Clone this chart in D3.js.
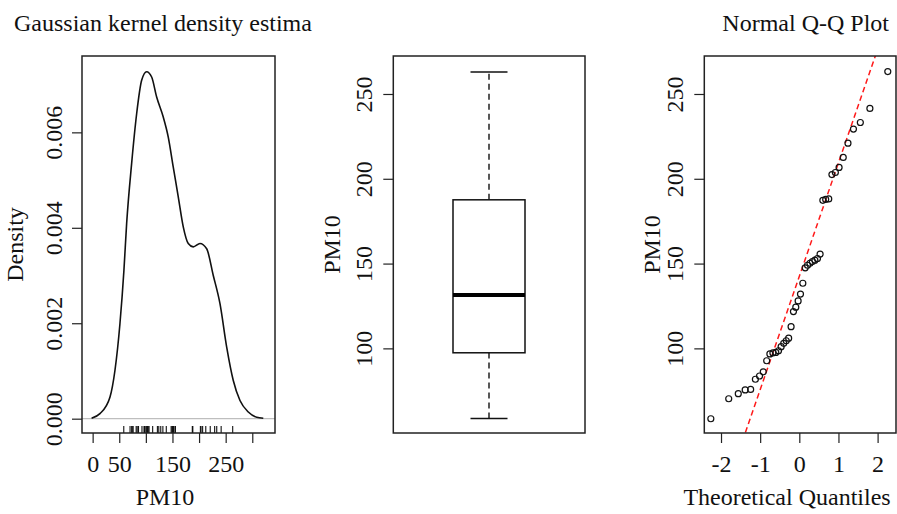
<!DOCTYPE html>
<html>
<head>
<meta charset="utf-8">
<script src="https://cdn.jsdelivr.net/npm/d3@7"></script>
<style>
  html, body { margin: 0; padding: 0; background: #fff; }
  svg { display: block; }
  text { font-family: "Liberation Serif", "DejaVu Serif", serif; fill: #111; }
</style>
</head>
<body>
<svg id="chart" width="897" height="514"></svg>
<script>
// ---------------- DATA ----------------
const pm10 = [58.5, 70.3, 73.3, 75.5, 75.8, 81.8, 83.7, 86.2, 92.7, 96.7,
              97.3, 97.6, 98.6, 101.0, 103.0, 104.5, 106.0, 112.8, 121.7, 124.3,
              128.0, 132.0, 138.4, 147.5, 149.0, 150.2, 151.2, 152.0, 153.0, 155.6,
              187.3, 187.8, 188.1, 202.5, 203.7, 206.7, 212.6, 221.0, 229.3, 233.2,
              241.5, 263.2];
// Theoretical normal quantiles for n = 42
const qqTheoretical = [-2.260, -1.803, -1.559, -1.383, -1.243, -1.122, -1.016, -0.921, -0.833, -0.752,
                       -0.674, -0.601, -0.531, -0.464, -0.398, -0.334, -0.272, -0.210, -0.150, -0.090,
                       -0.030, 0.030, 0.090, 0.150, 0.210, 0.272, 0.334, 0.398, 0.464, 0.531,
                       0.601, 0.674, 0.752, 0.833, 0.921, 1.016, 1.122, 1.243, 1.383, 1.559,
                       1.803, 2.260];
// Q-Q reference line: [intercept, slope]
const qqLineParams = [142.5, 66.9];

// Kernel density curve
const densityX = [-2, 13.7, 32.5, 41.9, 51.3, 58.8, 63.9, 73.3, 82.7, 92.1,
                  101.5, 110.9, 120.3, 132.7, 142.1, 151.5, 160.9, 170.3, 179.7, 189.1,
                  201.7, 214.3, 226.7, 239.3, 251.9, 264.3, 276.9, 292.5, 308.3, 320.7];
const densityY = [0.00001, 0.000105, 0.00045, 0.00101, 0.00199, 0.00311, 0.00409, 0.00535, 0.00639, 0.00709,
                  0.00727, 0.00716, 0.00674, 0.00632, 0.0059, 0.00527, 0.00465, 0.00402, 0.00367, 0.0036,
                  0.00367, 0.00356, 0.00300, 0.00241, 0.0015, 0.0008, 0.00038, 0.00014, 0.00003, 0.00001];

// Box plot statistics: [min, Q1, median, Q3, max]
const boxStats = [58.7, 97.4, 131.5, 187.6, 263.0];

// Ticks
const densityXTicks = [0, 50, 100, 150, 200, 250, 300];
const densityXLabels = ["0", "50", "", "150", "", "250", ""];
const densityYTicks = [0, 0.002, 0.004, 0.006];
const pmTicks = [100, 150, 200, 250];
const qqXTicks = [-2, -1, 0, 1, 2];

// Texts
const titles = ["Gaussian kernel density estima", "Normal Q-Q Plot"];
const axisTitles = { density: "Density", pm: "PM10", qqx: "Theoretical Quantiles" };

// ---------------- DRAWING ----------------
const svg = d3.select("#chart");
const FS = 24;
const boxColor = "#222";

function styleAxis(g) {
  g.select(".domain").remove();
  g.selectAll(".tick line").attr("stroke", boxColor).attr("stroke-width", 1.2);
  g.selectAll(".tick text").style("font-size", FS + "px").attr("fill", "#111");
}
function rotateYLabels(g, off) {
  g.selectAll(".tick text")
    .attr("transform", "rotate(-90)")
    .attr("x", 0).attr("y", off).attr("dy", 0)
    .attr("text-anchor", "middle");
}
function frame(x0, x1, y0, y1) {
  svg.append("rect").attr("x", x0).attr("y", y0).attr("width", x1 - x0).attr("height", y1 - y0)
    .attr("fill", "none").attr("stroke", boxColor).attr("stroke-width", 1.5);
}

// ----- Panel 1: density -----
{
  const L = 82, R = 275, T = 56, B = 433;
  const x = d3.scaleLinear().domain([-20, 342.7]).range([L, R]);
  const y = d3.scaleLinear().domain([-0.0003, 0.0076]).range([B, T]);

  // zero line
  svg.append("line").attr("x1", L).attr("x2", R).attr("y1", y(0)).attr("y2", y(0))
    .attr("stroke", "#bebebe").attr("stroke-width", 1.2);

  const pts = densityX.map((v, i) => [v, densityY[i]]);
  svg.append("path").datum(pts)
    .attr("d", d3.line().x(d => x(d[0])).y(d => y(d[1])).curve(d3.curveMonotoneX))
    .attr("fill", "none").attr("stroke", "#111").attr("stroke-width", 1.6);

  // rug
  svg.append("g").selectAll("line").data(pm10).join("line")
    .attr("x1", d => x(d)).attr("x2", d => x(d))
    .attr("y1", B).attr("y2", B - 7)
    .attr("stroke", "#111").attr("stroke-width", 1.1);

  frame(L, R, T, B);

  const ax = svg.append("g").attr("transform", `translate(0,${B})`)
    .call(d3.axisBottom(x).tickValues(densityXTicks).tickSize(10)
      .tickFormat((d, i) => densityXLabels[i]));
  styleAxis(ax);
  ax.selectAll(".tick text").attr("y", 39).attr("dy", 0);

  const ay = svg.append("g").attr("transform", `translate(${L},0)`)
    .call(d3.axisLeft(y).tickValues(densityYTicks).tickSize(10).tickFormat(d3.format(".3f")));
  styleAxis(ay);
  rotateYLabels(ay, -20);

  svg.append("text").attr("transform", `translate(23,${(T + B) / 2}) rotate(-90)`)
    .attr("text-anchor", "middle").style("font-size", FS + "px").text(axisTitles.density);
  svg.append("text").attr("x", 165).attr("y", 505).attr("text-anchor", "middle")
    .style("font-size", FS + "px").text(axisTitles.pm);
  svg.append("text").attr("x", 14).attr("y", 31).attr("text-anchor", "start")
    .style("font-size", FS + "px").text(titles[0]);
}

// ----- Panel 2: boxplot -----
{
  const L = 393.3, R = 585, T = 56, B = 433;
  const y = d3.scaleLinear().domain([50.1, 272.4]).range([B, T]);
  const cx = 489, halfBox = 36, halfCap = 18.5;
  const [mn, q1, md, q3, mx] = boxStats;

  const g = svg.append("g");
  // whiskers
  [[q3, mx], [mn, q1]].forEach(([a, b]) => {
    g.append("line").attr("x1", cx).attr("x2", cx).attr("y1", y(a)).attr("y2", y(b))
      .attr("stroke", "#111").attr("stroke-width", 1.4).attr("stroke-dasharray", "6,4");
  });
  [mn, mx].forEach(v => {
    g.append("line").attr("x1", cx - halfCap).attr("x2", cx + halfCap).attr("y1", y(v)).attr("y2", y(v))
      .attr("stroke", "#111").attr("stroke-width", 1.5);
  });
  g.append("rect").attr("x", cx - halfBox).attr("width", 2 * halfBox)
    .attr("y", y(q3)).attr("height", y(q1) - y(q3))
    .attr("fill", "#fff").attr("stroke", "#111").attr("stroke-width", 1.5);
  g.append("line").attr("x1", cx - halfBox).attr("x2", cx + halfBox).attr("y1", y(md)).attr("y2", y(md))
    .attr("stroke", "#000").attr("stroke-width", 4);

  frame(L, R, T, B);

  const ay = svg.append("g").attr("transform", `translate(${L},0)`)
    .call(d3.axisLeft(y).tickValues(pmTicks).tickSize(10));
  styleAxis(ay);
  rotateYLabels(ay, -21.5);

  svg.append("text").attr("transform", `translate(340,${(T + B) / 2}) rotate(-90)`)
    .attr("text-anchor", "middle").style("font-size", FS + "px").text(axisTitles.pm);
}

// ----- Panel 3: Q-Q plot -----
{
  const L = 704.3, R = 896, T = 56, B = 433;
  const x = d3.scaleLinear().domain([-2.427, 2.47]).range([L, R]);
  const y = d3.scaleLinear().domain([50.1, 272.4]).range([B, T]);

  svg.append("defs").append("clipPath").attr("id", "qqclip")
    .append("rect").attr("x", L).attr("y", T).attr("width", R - L).attr("height", B - T);

  const [a, b] = qqLineParams;
  const xd = x.domain();
  svg.append("line").attr("clip-path", "url(#qqclip)")
    .attr("x1", x(xd[0])).attr("y1", y(a + b * xd[0]))
    .attr("x2", x(xd[1])).attr("y2", y(a + b * xd[1]))
    .attr("stroke", "#ff1a1a").attr("stroke-width", 1.5).attr("stroke-dasharray", "5.5,3.5");

  svg.append("g").selectAll("circle").data(pm10).join("circle")
    .attr("cx", (d, i) => x(qqTheoretical[i])).attr("cy", d => y(d)).attr("r", 3)
    .attr("fill", "none").attr("stroke", "#111").attr("stroke-width", 1.2);

  frame(L, R, T, B);

  const ax = svg.append("g").attr("transform", `translate(0,${B})`)
    .call(d3.axisBottom(x).tickValues(qqXTicks).tickSize(10).tickFormat(d3.format("d")));
  styleAxis(ax);
  ax.selectAll(".tick text").attr("y", 39).attr("dy", 0).text(d => d < 0 ? "-" + Math.abs(d) : d);

  const ay = svg.append("g").attr("transform", `translate(${L},0)`)
    .call(d3.axisLeft(y).tickValues(pmTicks).tickSize(10));
  styleAxis(ay);
  rotateYLabels(ay, -21);

  svg.append("text").attr("transform", `translate(660,${(T + B) / 2}) rotate(-90)`)
    .attr("text-anchor", "middle").style("font-size", FS + "px").text(axisTitles.pm);
  svg.append("text").attr("x", 787).attr("y", 505).attr("text-anchor", "middle")
    .style("font-size", FS + "px").text(axisTitles.qqx);
  svg.append("text").attr("x", 889).attr("y", 31).attr("text-anchor", "end")
    .style("font-size", FS + "px").text(titles[1]);
}
</script>
</body>
</html>
